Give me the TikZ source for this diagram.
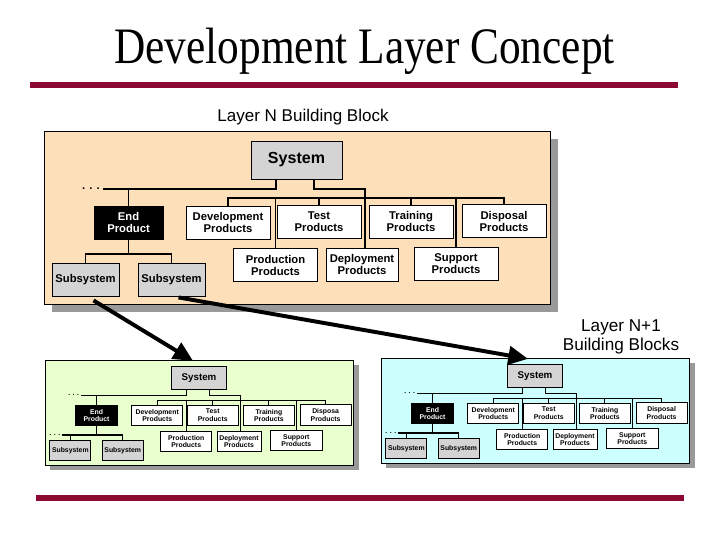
\documentclass[tikz,border=0pt]{standalone}
\usepackage{fontspec}
\setmainfont{Liberation Serif}
\setsansfont{Liberation Sans}
\usetikzlibrary{arrows.meta,calc,positioning}

\definecolor{peach}{RGB}{253,223,185}
\definecolor{lgreen}{RGB}{234,255,206}
\definecolor{lblue}{RGB}{206,255,255}
\definecolor{boxgray}{RGB}{212,212,212}
\definecolor{rulered}{RGB}{140,10,50}

%% one building block, in pixel units from its top left corner
%% #1 name prefix, #2 panel colour, #3 disposal label
\newcommand{\buildblock}[3]{%
  \fill[black!40] (8,8) rectangle (514,181);
  \draw[panel,fill=#2] (0,0) rectangle (506,173);
  %% boxes
  \node (#1sys) [sysbox] at (252.5,29) {System};
  \node (#1endp) [endbox] at (84.5,91.5) {End\\Product};
  \node (#1dev) [prodbox] at (184,91.5) {Development\\Products};
  \node (#1test) [prodbox] at (275,90.5) {Test\\Products};
  \node (#1train) [prodbox] at (367,90.5) {Training\\Products};
  \node (#1disp) [prodbox] at (460,90) {#3\\Products};
  \node (#1prod) [prodbox] at (231.5,134) {Production\\Products};
  \node (#1depl) [prodbox,minimum width=18mm] at (318,133.5) {Deployment\\Products};
  \node (#1supp) [prodbox] at (412,132.5) {Support\\Products};
  \node (#1sub1) [subbox] at (41.5,148.5) {Subsystem};
  \node (#1sub2) [subbox] at (127.5,148.5) {Subsystem};
  \node (#1dots) [dotlabel] at (47,58) {. . .};
  %% knees
  \coordinate (#1ka) at (232,58);
  \coordinate (#1kb) at (270,58);
  \coordinate (#1kc) at (321,58);
  \coordinate (#1bus) at (0,67);
  \coordinate (#1kd) at (0,123);
  %% edges
  \draw[treeedge] (#1sys.south -| #1ka) -- (#1ka) -- (#1dots.east);
  \draw[treeedge] (#1endp.north) -- (#1endp.north |- #1ka);
  \draw[treeedge] (#1sys.south -| #1kb) -- (#1kb) -- (#1kc) -- (#1kc |- #1depl.north);
  \draw[treeedge] (#1dev.north) -- (#1dev.north |- #1bus) -- (#1disp.north |- #1bus) -- (#1disp.north);
  \foreach \b in {test,train,prod,supp}
    \draw[treeedge] (#1\b.north) -- (#1\b.north |- #1bus);
  \draw[treeedge] (#1endp.south) -- (#1endp.south |- #1kd);
  \draw[treeedge] (#1sub1.north) -- (#1sub1.north |- #1kd) -- (#1sub2.north |- #1kd) -- (#1sub2.north);
}

\begin{document}
\begin{tikzpicture}
[x=0.025cm,y=-0.025cm,
treeedge/.style={line width=1.2pt},
panel/.style={draw=black,line width=0.5pt},
basebox/.style={draw,line width=0.6pt,inner sep=0pt,align=center,minimum height=8.25mm,
  font=\sffamily\bfseries\fontsize{8}{8.5}\selectfont},
prodbox/.style={basebox,fill=white,minimum width=21mm},
endbox/.style={basebox,fill=black,text=white,minimum width=17.25mm},
subbox/.style={basebox,fill=boxgray,minimum width=16.75mm},
sysbox/.style={basebox,fill=boxgray,minimum width=22.75mm,minimum height=9.5mm,
  font=\sffamily\bfseries\fontsize{11.4}{13}\selectfont},
dotlabel/.style={inner sep=2pt,font=\sffamily\bfseries\fontsize{8}{8}\selectfont},
bigarrow/.style={line width=2.8pt,-{Triangle[length=14pt,width=13pt]}},
redrule/.style={rulered,line width=4.3pt}]
\fill[white] (0,0) rectangle (720,540);
\useasboundingbox (0,0) rectangle (720,540);
%%%%% heading
\node (title) [anchor=base,yscale=1.18,font=\fontsize{30.8}{36}\selectfont] at (364.5,63) {Development Layer Concept};
\draw[redrule] (30,85) -- (678,85);
\draw[redrule] (36,498) -- (684,498);
%%%%% layer N
\node (toplab) [font=\sffamily\fontsize{12.1}{14}\selectfont] at (303,117) {Layer N Building Block};
\begin{scope}[shift={(44,131)}]
\buildblock{t}{peach}{Disposal}
\end{scope}
%%%%% layer N+1
\node (lowlab) [align=center,font=\sffamily\fontsize{12.2}{13.5}\selectfont] at (621,337) {Layer N+1\\Building Blocks};
\begin{scope}[shift={(45,360)},scale=0.61,transform shape,treeedge/.append style={line width=0.8pt}]
\buildblock{l}{lgreen}{Disposa}
\node (ldots2) [dotlabel] at (16,123) {. . .};
\draw[treeedge] (ldots2.east) -- (lsub1.north |- lkd);
\end{scope}
\begin{scope}[shift={(381,358)},scale=0.61,transform shape,treeedge/.append style={line width=0.8pt}]
\buildblock{r}{lblue}{Disposal}
\node (rdots2) [dotlabel] at (16,123) {. . .};
\draw[treeedge] (rdots2.east) -- (rsub1.north |- rkd);
\end{scope}
%% arrows
\draw[bigarrow] ($(tsub1.south)+(8,4)$) -- ($(lsys.north)+(-6,-5)$);
\draw[bigarrow] ($(tsub2.south)+(7,1)$) -- ($(rsys.north)+(-7,-5)$);
\end{tikzpicture}
\end{document}
